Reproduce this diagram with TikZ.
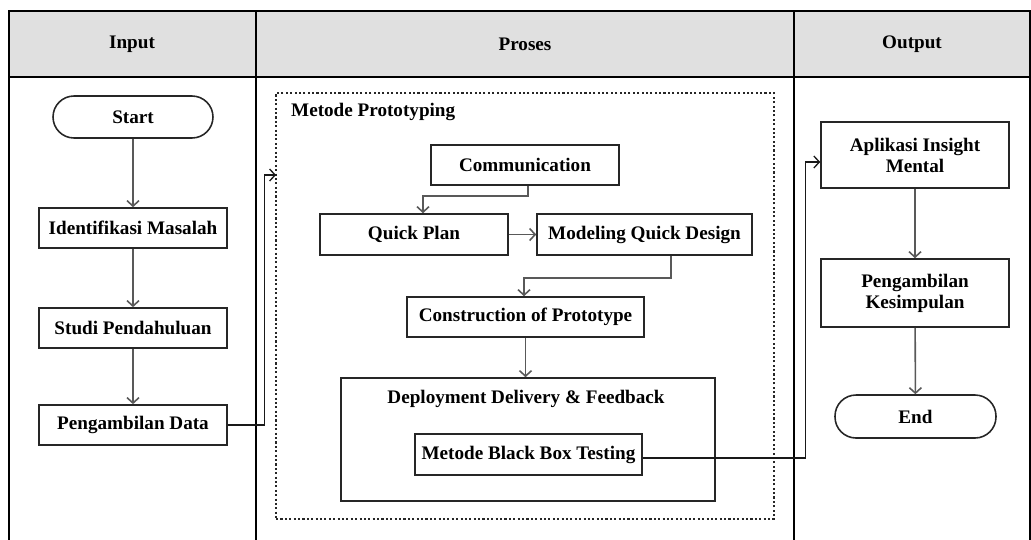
\documentclass[tikz,border=0pt]{standalone}
\usepackage{fontspec}
\setmainfont{Liberation Serif}
\usepackage{tikz}
\usetikzlibrary{shapes.geometric, arrows.meta, positioning}
\newcommand{\diagfont}{\fontsize{10.9}{12}\selectfont\bfseries}
\tikzstyle{startstop} = [rectangle, rounded corners=0.42cm, minimum width=3.2cm, minimum height=0.84cm, inner sep=1pt, text centered, draw=black!85, line width=0.9pt, font=\diagfont]
\tikzstyle{process} = [rectangle, minimum width=3.76cm, minimum height=0.8cm, inner sep=1pt, text centered, draw=black!85, line width=0.9pt, font=\diagfont]
\tikzstyle{frame} = [rectangle, draw=black!85, line width=0.9pt]
\tikzstyle{arrow} = [line width=0.9pt, draw=black!65, -{Straight Barb[length=1.1mm,width=2.4mm]}]
\tikzstyle{link} = [line width=0.75pt, draw=black!90, -{Straight Barb[length=1.1mm,width=2.4mm]}]
\tikzset{every node/.style={align=center, font=\diagfont}}

\begin{document}
\begin{tikzpicture}[x=0.02cm, y=0.02cm, node distance=2cm]
    \useasboundingbox (0,0) rectangle (1031,-539);
    % table
    \fill [black!12] (9,-11) rectangle (1030,-77);
    \draw [line width=0.9pt] (9,-545) -- (9,-11) -- (1030,-11) -- (1030,-545);
    \draw [line width=0.9pt] (9,-77) -- (1030,-77);
    \draw [line width=0.9pt] (256,-11) -- (256,-545);
    \draw [line width=0.9pt] (794,-11) -- (794,-545);
    \node (hin)  at (132,-44) {Input};
    \node (hpro) at (525,-44) {Proses};
    \node (hout) at (912,-44) {Output};

    % input
    \node (start) [startstop] at (133,-117) {Start};
    \node (ident) [process, below of=start, yshift=-0.22cm] {Identifikasi Masalah};
    \node (studi) [process, below of=ident] {Studi Pendahuluan};
    \node (data)  [process, below of=studi, yshift=0.06cm] {Pengambilan Data};

    % proses
    \node (proto) [rectangle, draw=black!85, line width=0.8pt, dash pattern=on 1.2pt off 1.3pt, minimum width=9.96cm, minimum height=8.52cm] at (525,-306) {};
    \node (ptitle) [anchor=west] at (285,-112) {Metode Prototyping};
    \coordinate (protoin) at (276,-175);
    \node (comm)   [process] at (525,-165) {Communication};
    \node (plan)   [process, minimum height=0.82cm] at (414,-234.5) {Quick Plan};
    \node (model)  [process, minimum width=4.3cm, minimum height=0.82cm] at (644.5,-234.5) {Modeling Quick Design};
    \node (constr) [process, minimum width=4.74cm] at (525.5,-317) {Construction of Prototype};
    \node (deploy) [frame, minimum width=7.48cm, minimum height=2.46cm] at (528,-439.5) {};
    \node (dtitle) at (526,-399) {Deployment Delivery \& Feedback};
    \node (bbox)   [process, minimum width=4.54cm, minimum height=0.82cm] at (528.5,-454.5) {Metode Black Box Testing};

    % output
    \node (apl) [process, minimum height=1.32cm] at (915,-155) {Aplikasi Insight\\Mental};
    \node (kes) [process, minimum height=1.36cm] at (915,-293) {Pengambilan\\Kesimpulan};
    \node (end) [startstop, minimum width=3.22cm, minimum height=0.86cm] at (915.5,-416.5) {End};

    \draw [arrow] (start) -- (ident);
    \draw [arrow] (ident) -- (studi);
    \draw [arrow] (studi) -- (data);
    \draw [link] (data.east) -- ++(37,0) |- (protoin);
    \draw [arrow] ([xshift=0.06cm]comm.south) -- ++(0,-10) -| ([xshift=0.18cm]plan.north);
    \draw [arrow] (plan) -- (model);
    \draw [arrow] ([xshift=0.53cm]model.south) -- ++(0,-22) -| ([xshift=-0.03cm]constr.north);
    \draw [arrow] (constr) -- (constr |- deploy.north);
    \draw [link] ([yshift=-0.07cm]bbox.east) -- ++(163,0) |- ([yshift=-0.14cm]apl.west);
    \draw [arrow] (apl) -- (kes);
    \draw [arrow] (kes) -- (end);
\end{tikzpicture}
\end{document}
